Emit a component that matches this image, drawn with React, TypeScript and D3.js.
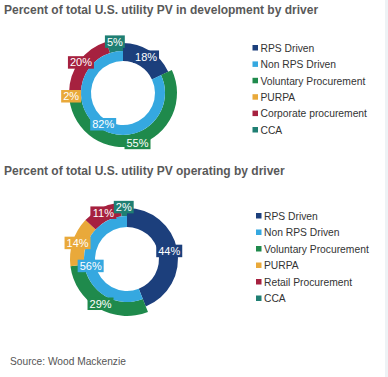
import React from "react";
import * as d3 from "d3";

// ---- Data ----
const devTitle = "Percent of total U.S. utility PV in development by driver";
const opTitle = "Percent of total U.S. utility PV operating by driver";
const devCategories = ["RPS Driven", "Non RPS Driven", "Voluntary Procurement", "PURPA", "Corporate procurement", "CCA"];
const opCategories = ["RPS Driven", "Non RPS Driven", "Voluntary Procurement", "PURPA", "Retail Procurement", "CCA"];
const devInner = [18, 82]; // RPS, Non RPS
const devOuter = [55, 2, 20, 5]; // children of Non RPS
const opInner = [44, 56];
const opOuter = [29, 14, 11, 2];
const sourceText = "Source: Wood Mackenzie";

// ---- Styles ----
const colors = ["#1c3f7c", "#35a8e0", "#1f8a4c", "#e9a93a", "#a6213f", "#1f7f73"];
const FONT = "'Liberation Sans', Arial, sans-serif";

interface DonutProps {
  cx: number;
  cy: number;
  inner: number[];
  outer: number[];
  rHole: number;
  rMid: number;
  rOut: number;
  rNavy: number;
}

function Label({ x, y, text, fill }: { x: number; y: number; text: string; fill: string }) {
  const w = (text.length - 1) * 6.1 + 9.8 + 4;
  const h = 12.5;
  return (
    <g>
      <rect x={x - w / 2} y={y - h / 2} width={w} height={h} fill={fill} />
      <text x={x} y={y + 4} textAnchor="middle" fontFamily={FONT} fontSize={11} fill="#ffffff">
        {text}
      </text>
    </g>
  );
}

function Donut({ cx, cy, inner, outer, rHole, rMid, rOut, rNavy }: DonutProps) {
  const pieInner = d3.pie<number>().sort(null).value((d) => d)(inner);
  const nonRps = pieInner[1];
  const pieOuter = d3
    .pie<number>()
    .sort(null)
    .value((d) => d)
    .startAngle(nonRps.startAngle)
    .endAngle(nonRps.endAngle)(outer);
  const arc = d3.arc<any>();
  const labels: { a: number; r: number; text: string; fill: string }[] = [];
  const paths: any[] = [];

  // RPS spans both rings
  const rps = pieInner[0];
  paths.push(
    <path key="rps" d={arc({ innerRadius: rHole, outerRadius: rNavy, startAngle: rps.startAngle, endAngle: rps.endAngle })!} fill={colors[0]} />
  );
  labels.push({ a: (rps.startAngle + rps.endAngle) / 2, r: 43, text: `${inner[0]}%`, fill: colors[0] });

  pieOuter.forEach((p, i) => {
    paths.push(
      <path key={"o" + i} d={arc({ innerRadius: rMid, outerRadius: rOut, startAngle: p.startAngle, endAngle: p.endAngle })!} fill={colors[i + 2]} />
    );
    labels.push({ a: (p.startAngle + p.endAngle) / 2, r: 52, text: `${outer[i]}%`, fill: colors[i + 2] });
  });

  paths.push(
    <path key="non" d={arc({ innerRadius: rHole, outerRadius: rMid, startAngle: nonRps.startAngle, endAngle: nonRps.endAngle })!} fill={colors[1]} />
  );
  labels.push({ a: (nonRps.startAngle + nonRps.endAngle) / 2, r: 37, text: `${inner[1]}%`, fill: colors[1] });

  return (
    <g transform={`translate(${cx},${cy})`}>
      {paths}
      {labels.map((l, i) => (
        <Label key={i} x={Math.sin(l.a) * l.r} y={-Math.cos(l.a) * l.r} text={l.text} fill={l.fill} />
      ))}
    </g>
  );
}

function Legend({ x, y, items, step }: { x: number; y: number; items: string[]; step: number }) {
  return (
    <g>
      {items.map((t, i) => (
        <g key={t} transform={`translate(${x},${y + i * step})`}>
          <rect x={0} y={-3} width={5.5} height={5.5} fill={colors[i]} />
          <text x={8} y={3.8} fontFamily={FONT} fontSize={10.3} fill="#333333">
            {t}
          </text>
        </g>
      ))}
    </g>
  );
}

export default function App() {
  return (
    <svg
      width={388}
      height={377}
      style={{ position: "absolute", left: 0, top: 0, background: "#ffffff" }}
    >
      <rect x={0} y={0} width={388} height={377} fill="#ffffff" />
      <rect x={385} y={0} width={3} height={377} fill="#eef2f5" />
      <text x={4} y={13.5} fontFamily={FONT} fontWeight="bold" fontSize={12} fill="#595959">
        {devTitle}
      </text>
      <Donut cx={123} cy={93} inner={devInner} outer={devOuter} rHole={32} rMid={42} rOut={54} rNavy={50} />
      <Legend x={252.5} y={48} items={devCategories} step={16.4} />

      <text x={4} y={174.5} fontFamily={FONT} fontWeight="bold" fontSize={12} fill="#595959">
        {opTitle}
      </text>
      <Donut cx={127} cy={259} inner={opInner} outer={opOuter} rHole={32} rMid={43} rOut={57} rNavy={51} />
      <Legend x={256} y={216} items={opCategories} step={16.5} />

      <text x={10} y={365} fontFamily={FONT} fontSize={10.2} fill="#555555">
        {sourceText}
      </text>
    </svg>
  );
}
